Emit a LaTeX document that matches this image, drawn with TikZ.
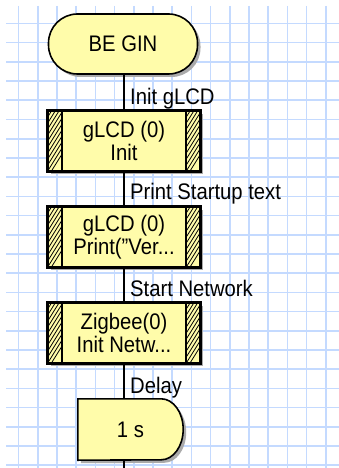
\documentclass[tikz,border=0pt]{standalone}
\usepackage{fontspec}
\setmainfont{Liberation Sans}[FakeStretch=0.9]
\usetikzlibrary{shadows,calc}
\definecolor{flyellow}{RGB}{255,252,170}
\definecolor{gridblue}{RGB}{196,218,255}
\definecolor{shadowgray}{RGB}{170,170,170}
\newcommand\fcfont{\fontsize{22.5}{23}\selectfont}
\newcommand\hatchbox[1]{%
  \begin{scope}
    \clip (#1.north west) rectangle ($(#1.south west)+(15,0)$);
    \foreach \k in {-1,...,14} \draw[line width=0.8pt] ($(#1.south west)+(0,-6*\k)$) -- ++(15,-24);
  \end{scope}
  \begin{scope}
    \clip ($(#1.north east)+(-15,0)$) rectangle (#1.south east);
    \foreach \k in {-1,...,14} \draw[line width=0.8pt] ($(#1.south east)+(-15,-6*\k)$) -- ++(15,-24);
  \end{scope}
  \draw[line width=1.6pt] (#1.north west) rectangle (#1.south east);
  \draw[line width=1.6pt] ($(#1.north west)+(15,0)$) -- ($(#1.south west)+(15,0)$);
  \draw[line width=1.6pt] ($(#1.north east)+(-15,0)$) -- ($(#1.south east)+(-15,0)$);
}
\begin{document}
\begin{tikzpicture}[x=1pt,y=-1pt,
  gridline/.style={draw=gridblue, line width=1.6pt},
  shade3/.style={drop shadow={shadow xshift=3pt, shadow yshift=-3pt, fill=shadowgray, opacity=1}},
  termbox/.style={draw=black, line width=1.6pt, fill=flyellow, rounded corners=29pt, minimum width=149pt, minimum height=60pt, inner sep=0pt, font=\fcfont, shade3},
  macrobox/.style={draw=black, line width=1.6pt, fill=flyellow, minimum width=152pt, minimum height=60pt, inner sep=0pt, align=center, font=\fcfont, shade3},
  conn/.style={draw=black, line width=1.6pt},
  lbl/.style={anchor=base west, inner sep=0pt, font=\fcfont}]
\fill[white] (0,0) rectangle (339,468);
\useasboundingbox (0,0) rectangle (339,468);
\foreach \i in {0,...,16} \draw[gridline] (18.5+19.2*\i,6) -- (18.5+19.2*\i,468);
\foreach \j in {0,...,23} \draw[gridline] (6,23.5+19.2*\j) -- (339,23.5+19.2*\j);

\node[termbox] (b) at (123,44) {BE GIN};
\node[macrobox] (g1) at (124,141) {gLCD (0)\\Init};
\node[macrobox] (g2) at (124,237) {gLCD (0)\\Print("Ver...};
\node[macrobox] (g3) at (124,333) {Zigbee(0)\\Init Netw...};
\node[inner sep=0pt, minimum width=105pt, minimum height=61pt, font=\fcfont] (d) at (130.5,429.5) {};
\coordinate (e) at (124,468);

\hatchbox{g1}
\hatchbox{g2}
\hatchbox{g3}

\path[draw=black, line width=1.6pt, fill=flyellow, shade3]
  (d.north west) -- ([xshift=-22pt]d.north east)
  arc[start angle=90, end angle=-90, x radius=22pt, y radius=30.5pt]
  -- (d.south west) -- cycle;
\node[font=\fcfont, inner sep=0pt] at (d.center) {1 s};

\draw[conn] (g1.north |- b.south) -- (g1.north);
\draw[conn] (g1.south) -- (g2.north);
\draw[conn] (g2.south) -- (g3.north);
\draw[conn] (g3.south) -- (g3.south |- d.north);
\draw[conn] (g3.south |- d.south) -- (e);

\node[lbl] at ($(g1.north)+(6,-6)$) {Init gLCD};
\node[lbl] at ($(g2.north)+(6,-7)$) {Print Startup text};
\node[lbl] at ($(g3.north)+(6,-6)$) {Start Network};
\node[lbl] at ($(g3.south |- d.north)+(6,-5)$) {Delay};
\end{tikzpicture}
\end{document}
